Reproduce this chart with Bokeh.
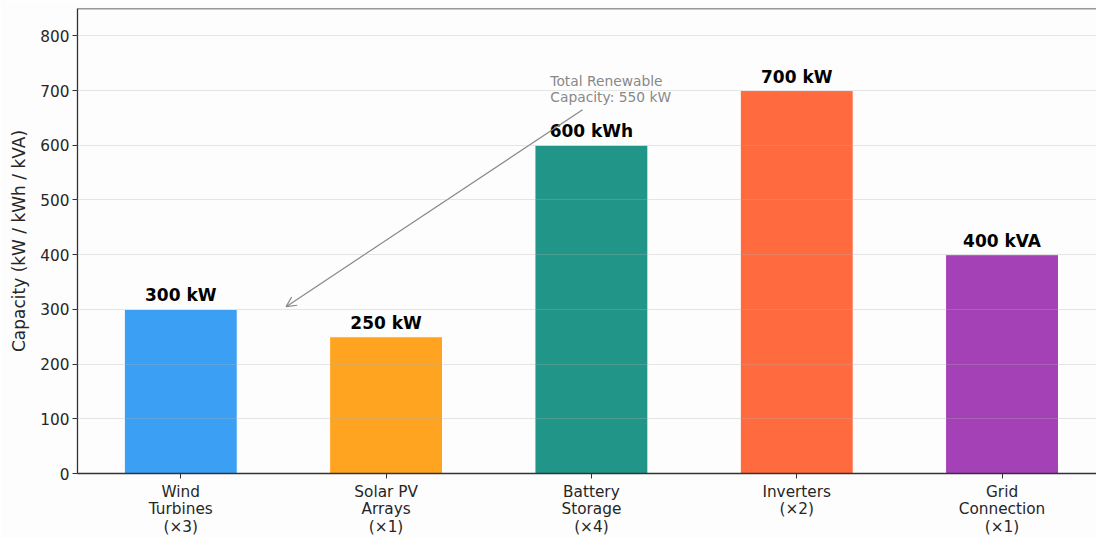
from bokeh.plotting import figure
from bokeh.models import Range1d, FixedTicker, Arrow, OpenHead, Span, ColumnDataSource
from bokeh.core.properties import value
from bokeh.embed import file_html
from bokeh.resources import INLINE

# ---- data ----
categories = ["Wind\nTurbines\n(×3)", "Solar PV\nArrays\n(×1)", "Battery\nStorage\n(×4)",
              "Inverters\n(×2)", "Grid\nConnection\n(×1)"]
values = [300, 250, 600, 700, 400]
units = ["kW", "kW", "kWh", "kW", "kVA"]
colors = ["#3BA0F3", "#FFA420", "#219688", "#FF6B3E", "#A541B7"]
y_ticks = [0, 100, 200, 300, 400, 500, 600, 700, 800]
annot_lines = ["Total Renewable", "Capacity: 550 kW"]
annot_x = 1.8
annot_y = [718, 688]
arrow_from = (1.957, 665)
arrow_to = (0.513, 305)

FONT = "DejaVu Sans"
BG = "#FDFDFD"

xs = list(range(len(categories)))
labels = [f"{v} {u}" for v, u in zip(values, units)]

src = ColumnDataSource(dict(x=xs, top=values, color=colors, label=labels))

p = figure(width=1096, height=538,
           x_range=Range1d(-0.503, 4.46), y_range=Range1d(0, 850),
           output_backend="svg", toolbar_location=None,
           min_border_left=77, min_border_right=0, min_border_top=8, min_border_bottom=61,
           background_fill_color=BG, border_fill_color=BG, outline_line_color=None)

p.vbar(x="x", top="top", width=0.55, fill_color="color", line_color="white",
       line_width=1, source=src)

p.text(x="x", y="top", text="label", source=src, text_align="center",
       text_baseline="alphabetic", y_offset=-14, text_font=value(FONT),
       text_font_style="bold", text_font_size="17px", text_color="#000000")

# grid above bars, light
p.xgrid.grid_line_color = None
p.ygrid.ticker = FixedTicker(ticks=y_ticks)
p.ygrid.grid_line_color = "#b0b0b0"
p.ygrid.grid_line_alpha = 0.3
p.ygrid.grid_line_width = 1
p.ygrid.level = "overlay"

# axes
p.xaxis.ticker = FixedTicker(ticks=xs)
p.xaxis.major_label_overrides = {i: c for i, c in enumerate(categories)}
p.yaxis.ticker = FixedTicker(ticks=y_ticks)
p.yaxis.axis_label = "Capacity (kW / kWh / kVA)"
for ax in (p.xaxis[0], p.yaxis[0]):
    ax.axis_line_color = "#333333"
    ax.axis_line_width = 1.3
    ax.major_tick_line_color = "#333333"
    ax.major_tick_in = 0
    ax.major_tick_out = 5
    ax.minor_tick_line_color = None
    ax.major_label_text_font = FONT
    ax.major_label_text_font_size = "15.3px"
    ax.major_label_text_color = "#262626"
    ax.axis_label_text_font = FONT
    ax.axis_label_text_font_size = "17px"
    ax.axis_label_text_font_style = "normal"
    ax.axis_label_text_color = "#262626"
p.xaxis.major_label_standoff = 4
p.xaxis.major_label_text_line_height = 0.98
p.yaxis.major_label_standoff = 3
p.yaxis.axis_label_standoff = 8

# top spine
p.add_layout(Span(location=850, dimension="width", line_color="#333333", line_width=1.3))

# annotation
p.add_layout(Arrow(end=OpenHead(size=10, line_color="#888888", line_width=1.2),
                   x_start=arrow_from[0], y_start=arrow_from[1],
                   x_end=arrow_to[0], y_end=arrow_to[1],
                   line_color="#888888", line_width=1.2))
p.text(x=[annot_x] * len(annot_lines), y=annot_y, text=annot_lines,
       text_align="left", text_baseline="alphabetic", text_font=value(FONT),
       text_font_size="13.8px", text_color="#888888")

open("out.html", "w").write(file_html(p, INLINE))
